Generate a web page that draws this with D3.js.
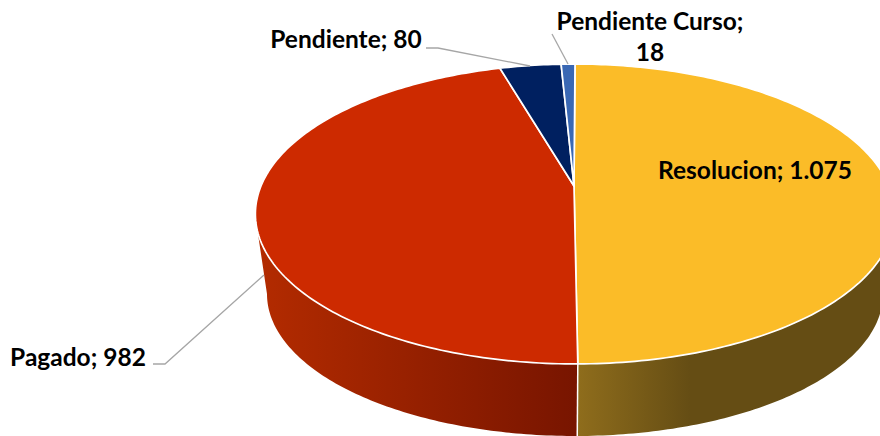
<!DOCTYPE html>
<html>
<head>
<meta charset="utf-8">
<script src="https://cdn.jsdelivr.net/npm/d3@7"></script>
<style>
body { margin: 0; background: #fff; }
svg { display: block; }
.lbl { font-family: Lato, sans-serif; font-weight: 700; font-size: 24.5px; fill: #000; }
</style>
</head>
<body>
<div id="chart"></div>
<script>
const width = 880;
const height = 436;

const categories = ['Resolucion', 'Pagado', 'Pendiente', 'Pendiente Curso'];
const values = [1075, 982, 80, 18];
const valueLabels = ['1.075', '982', '80', '18'];
const topColors = ['#fbbc28', '#cd2a00', '#002060', '#3a68b4'];
const wallLeft = ['#8f6d1c', '#b32b00'];
const wallRight = ['#654d14', '#781500'];

// the tilted disc: circle to screen with a bit of perspective
const cx = 575;
const apexY = 186;
const persp = -0.1867;
const yGain = 110;
const radius = 314;

function project(angle) {
    const u = Math.sin(angle);
    const v = -Math.cos(angle);
    const w = 1 + persp * v;
    return [cx + radius * u / w, (apexY + yGain * v) / w];
}

// lower rim of the wall, tighter than the upper one
function projectLow(angle) {
    return [cx + 308 * Math.sin(angle), 294 - 142 * Math.cos(angle)];
}

const pie = d3.pie().sort(null).value(function (d) { return d; });
const slices = pie(values);

const line = d3.line();

function arcPoints(a0, a1, fn) {
    const n = Math.max(4, Math.ceil((a1 - a0) * 60));
    return d3.range(n + 1).map(function (i) {
        return fn(a0 + (a1 - a0) * i / n);
    });
}

const svg = d3.select('#chart')
    .append('svg')
    .attr('width', width)
    .attr('height', height);

const defs = svg.append('defs');
wallLeft.forEach(function (c, i) {
    const grad = defs.append('linearGradient')
        .attr('id', 'wall' + i)
        .attr('gradientUnits', 'userSpaceOnUse')
        .attr('x1', i == 0 ? 577 : 258)
        .attr('x2', i == 0 ? 690 : 577)
        .attr('y1', 0)
        .attr('y2', 0);
    grad.append('stop').attr('offset', 0).attr('stop-color', wallLeft[i]);
    grad.append('stop').attr('offset', 1).attr('stop-color', wallRight[i]);
});

// only the front of the disc has a visible wall
const rimFrom = 1.875;
const rimTo = 4.408;
const lowFrom = Math.PI / 2;
const lowTo = Math.PI * 1.5;

svg.selectAll('.wall')
    .data(slices.slice(0, 2))
    .enter()
    .append('path')
    .attr('class', 'wall')
    .attr('d', function (d) {
        const upper = arcPoints(Math.max(d.startAngle, rimFrom), Math.min(d.endAngle, rimTo), project);
        const lower = arcPoints(Math.max(d.startAngle, lowFrom), Math.min(d.endAngle, lowTo), projectLow);
        return line(upper.concat(lower.reverse())) + 'Z';
    })
    .attr('fill', function (d, i) { return 'url(#wall' + i + ')'; });

// white seam between the two visible walls
const seam = slices[0].endAngle;
svg.append('path')
    .attr('d', line([project(seam), projectLow(seam)]))
    .attr('stroke', '#fff')
    .attr('stroke-width', 1.5)
    .attr('fill', 'none');

svg.selectAll('.slice')
    .data(slices)
    .enter()
    .append('path')
    .attr('class', 'slice')
    .attr('d', function (d) {
        return line([[cx - 1, apexY]].concat(arcPoints(d.startAngle, d.endAngle, project))) + 'Z';
    })
    .attr('fill', function (d, i) { return topColors[i]; })
    .attr('stroke', '#fff')
    .attr('stroke-width', 1.7)
    .attr('stroke-linejoin', 'round');

// leader lines
const leaders = [
    [[153, 364], [165, 364], [264, 275]],
    [[426, 48], [438, 48], [530, 66]],
    [[552, 34], [568, 64]]
];
svg.selectAll('.leader')
    .data(leaders)
    .enter()
    .append('path')
    .attr('class', 'leader')
    .attr('d', function (d) { return line(d); })
    .attr('fill', 'none')
    .attr('stroke', '#a6a6a6')
    .attr('stroke-width', 1.3);

function label(i) {
    return categories[i] + '; ' + valueLabels[i];
}

svg.append('text').attr('class', 'lbl').attr('x', 755).attr('y', 179)
    .attr('text-anchor', 'middle').text(label(0));
svg.append('text').attr('class', 'lbl').attr('x', 78).attr('y', 366)
    .attr('text-anchor', 'middle').text(label(1));
svg.append('text').attr('class', 'lbl').attr('x', 346).attr('y', 48)
    .attr('text-anchor', 'middle').text(label(2));
svg.append('text').attr('class', 'lbl').attr('x', 650).attr('y', 30)
    .attr('text-anchor', 'middle').text(categories[3] + ';');
svg.append('text').attr('class', 'lbl').attr('x', 650).attr('y', 61)
    .attr('text-anchor', 'middle').text(valueLabels[3]);
</script>
</body>
</html>
